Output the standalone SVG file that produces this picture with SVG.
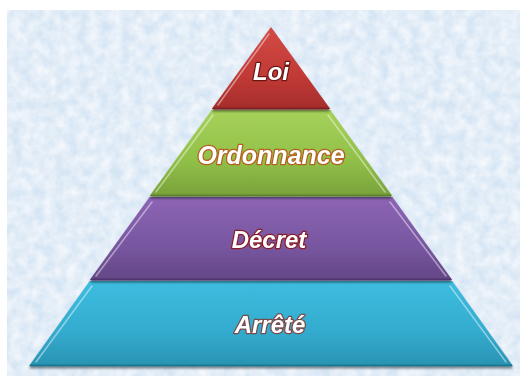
<svg xmlns="http://www.w3.org/2000/svg" width="520" height="376" viewBox="0 0 520 376">
<defs>
<filter id="tex" x="0" y="0" width="100%" height="100%">
<feTurbulence type="fractalNoise" baseFrequency="0.09" numOctaves="3" seed="4" result="n"/>
<feColorMatrix in="n" type="matrix" values="0 0 0 0 1  0 0 0 0 1  0 0 0 0 1  0 0 0 -1.1 0.85" result="w"/>
<feComposite in="w" in2="SourceGraphic" operator="in" result="wc"/>
<feMerge><feMergeNode in="SourceGraphic"/><feMergeNode in="wc"/></feMerge>
</filter>
<linearGradient id="gRed" x1="0" y1="0" x2="0" y2="1">
<stop offset="0" stop-color="#d24a45"/><stop offset="0.6" stop-color="#c13a36"/><stop offset="1" stop-color="#a52d2b"/>
</linearGradient>
<linearGradient id="gGreen" x1="0" y1="0" x2="0" y2="1">
<stop offset="0" stop-color="#a6d25a"/><stop offset="0.6" stop-color="#90bf48"/><stop offset="1" stop-color="#78a23a"/>
</linearGradient>
<linearGradient id="gPurple" x1="0" y1="0" x2="0" y2="1">
<stop offset="0" stop-color="#8c65b4"/><stop offset="0.6" stop-color="#7856a0"/><stop offset="1" stop-color="#634686"/>
</linearGradient>
<linearGradient id="gCyan" x1="0" y1="0" x2="0" y2="1">
<stop offset="0" stop-color="#3dbde0"/><stop offset="0.6" stop-color="#33abce"/><stop offset="1" stop-color="#2a93b3"/>
</linearGradient>
<filter id="sh" x="-5%" y="-5%" width="110%" height="115%">
<feGaussianBlur in="SourceAlpha" stdDeviation="1.2"/>
<feOffset dy="1.5" result="o"/>
<feFlood flood-color="#000" flood-opacity="0.45"/>
<feComposite in2="o" operator="in"/>
<feMerge><feMergeNode/><feMergeNode in="SourceGraphic"/></feMerge>
</filter>
</defs>
<style>
.lbl{font-family:"Liberation Sans",Arial,sans-serif;font-weight:bold;font-style:italic;font-size:24px;fill:#ffffff;text-anchor:middle;paint-order:stroke;stroke-width:2.5px;stroke-linejoin:round}
.hl{fill:none;stroke:#ffffff;stroke-opacity:0.45;stroke-width:1.5;stroke-linecap:round}
.edge{fill:none;stroke-width:2}
</style>
<rect x="0" y="0" width="520" height="376" fill="#ffffff"/>
<rect x="7" y="10" width="513" height="366" fill="#d6e5f4" filter="url(#tex)"/>
<g id="arrete" filter="url(#sh)">
<polygon points="89.7,281 452.3,281 513,366 29,366" fill="url(#gCyan)"/>
<line class="edge" x1="30" y1="365.5" x2="512" y2="365.5" stroke="#1f7690"/>
<line class="hl" x1="92" y1="286" x2="36" y2="362"/>
<line class="hl" x1="450" y1="286" x2="506" y2="362" stroke-opacity="0.25"/>
<text class="lbl" x="270" y="333" stroke="#7a4a4a">Arrêté</text>
</g>
<g id="decret" filter="url(#sh)">
<polygon points="149.6,197 392.4,197 452.3,280 89.7,280" fill="url(#gPurple)"/>
<line class="edge" x1="91" y1="279.5" x2="451" y2="279.5" stroke="#4f366e"/>
<line class="hl" x1="152" y1="202" x2="96" y2="276"/>
<line class="hl" x1="390" y1="202" x2="446" y2="276" stroke-opacity="0.25"/>
<text class="lbl" x="269" y="248" stroke="#8a1f2a">Décret</text>
</g>
<g id="ordonnance" filter="url(#sh)">
<polygon points="211.7,110 330.3,110 392.4,196 149.6,196" fill="url(#gGreen)"/>
<line class="edge" x1="151" y1="195.5" x2="391" y2="195.5" stroke="#5f8030"/>
<line class="hl" x1="213" y1="115" x2="156" y2="192"/>
<line class="hl" x1="328" y1="115" x2="385" y2="192" stroke-opacity="0.25"/>
<text class="lbl" x="271" y="164" stroke="#b5601c" style="font-size:25px">Ordonnance</text>
</g>
<g id="loi" filter="url(#sh)">
<polygon points="271,27 330.3,109 211.7,109" fill="url(#gRed)"/>
<line class="edge" x1="213" y1="108.5" x2="329" y2="108.5" stroke="#7e2220"/>
<line class="hl" x1="269" y1="34" x2="218" y2="105"/>
<text class="lbl" x="271" y="80" stroke="#6e1515">Loi</text>
</g>
<g id="connectors"/>
</svg>
